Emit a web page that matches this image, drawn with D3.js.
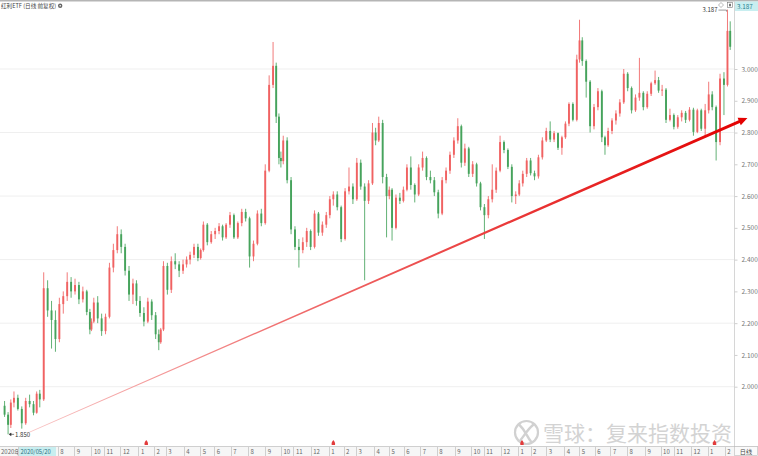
<!DOCTYPE html>
<html><head><meta charset="utf-8">
<script src="https://cdn.jsdelivr.net/npm/d3@7/dist/d3.min.js"></script>
<style>html,body{margin:0;padding:0;background:#fff;overflow:hidden}svg{display:block}</style>
</head><body><svg id="c" width="758" height="456"></svg>
<script>
// ---------------- data ----------------
const title = "红利ETF (日线 前复权)";
const startDate = "2020-04-20", endDate = "2024-02-21";
const holidays = [
 "2020-05-01","2020-05-04","2020-05-05","2020-06-25","2020-06-26","2020-10-01","2020-10-02","2020-10-05","2020-10-06","2020-10-07","2020-10-08",
 "2021-01-01","2021-02-11","2021-02-12","2021-02-15","2021-02-16","2021-02-17","2021-04-05","2021-05-03","2021-05-04","2021-05-05","2021-06-14","2021-09-20","2021-09-21","2021-10-01","2021-10-04","2021-10-05","2021-10-06","2021-10-07",
 "2022-01-03","2022-01-31","2022-02-01","2022-02-02","2022-02-03","2022-02-04","2022-04-04","2022-04-05","2022-05-02","2022-05-03","2022-05-04","2022-06-03","2022-09-12","2022-10-03","2022-10-04","2022-10-05","2022-10-06","2022-10-07",
 "2023-01-02","2023-01-23","2023-01-24","2023-01-25","2023-01-26","2023-01-27","2023-04-05","2023-05-01","2023-05-02","2023-05-03","2023-06-22","2023-06-23","2023-09-29","2023-10-02","2023-10-03","2023-10-04","2023-10-05","2023-10-06",
 "2024-01-01","2024-02-09","2024-02-12","2024-02-13","2024-02-14","2024-02-15","2024-02-16"];

// weekly candles [open, high, low, close]
const ohlc2020 = [
[1.940,1.955,1.905,1.912],[1.912,1.920,1.850,1.880],[1.880,1.960,1.870,1.950],[1.950,1.985,1.935,1.965],
[1.965,1.975,1.925,1.930],[1.930,1.938,1.868,1.885],[1.885,1.965,1.880,1.955],[1.955,1.975,1.935,1.945],
[1.945,1.955,1.910,1.918],[1.918,1.985,1.915,1.978],[1.978,1.990,1.935,1.960],[1.960,2.360,1.955,2.310],
[2.310,2.335,2.220,2.240],[2.240,2.270,2.120,2.210],[2.210,2.240,2.110,2.150],[2.150,2.280,2.140,2.260],
[2.260,2.300,2.230,2.285],[2.285,2.360,2.270,2.330],[2.330,2.345,2.280,2.300],[2.300,2.340,2.290,2.320],
[2.320,2.330,2.260,2.275],[2.275,2.315,2.265,2.300],[2.300,2.305,2.225,2.235],[2.235,2.245,2.165,2.180],
[2.180,2.215,2.175,2.205],[2.205,2.280,2.200,2.265],[2.265,2.285,2.200,2.215],[2.215,2.230,2.160,2.175],
[2.175,2.230,2.165,2.220],[2.220,2.390,2.215,2.375],[2.375,2.450,2.360,2.430],[2.430,2.505,2.420,2.480],
[2.480,2.495,2.420,2.440],[2.440,2.450,2.350,2.365],[2.365,2.380,2.270,2.290],[2.290,2.340,2.260,2.325],
[2.325,2.335,2.255,2.270]];
const ohlc2021 = [
[2.270,2.285,2.220,2.232],[2.232,2.250,2.190,2.205],[2.205,2.280,2.200,2.268],[2.268,2.275,2.210,2.225],
[2.225,2.235,2.150,2.165],[2.165,2.180,2.115,2.140],[2.140,2.185,2.135,2.180],[2.180,2.395,2.175,2.380],
[2.380,2.390,2.290,2.305],[2.305,2.410,2.295,2.395],[2.395,2.420,2.370,2.385],[2.385,2.395,2.345,2.365],
[2.365,2.400,2.355,2.385],[2.385,2.410,2.375,2.400],[2.400,2.425,2.385,2.415],[2.415,2.450,2.405,2.440],
[2.440,2.450,2.395,2.405],[2.405,2.435,2.400,2.430],[2.430,2.520,2.425,2.510],[2.510,2.515,2.445,2.455],
[2.455,2.490,2.450,2.480],[2.480,2.500,2.465,2.490],[2.490,2.515,2.480,2.505],[2.505,2.510,2.460,2.470],
[2.470,2.515,2.465,2.510],[2.510,2.550,2.500,2.540],[2.540,2.545,2.465,2.470],[2.470,2.520,2.465,2.515],
[2.515,2.560,2.505,2.550],[2.550,2.560,2.520,2.530],[2.530,2.535,2.375,2.410],[2.410,2.460,2.395,2.450],
[2.450,2.555,2.445,2.545],[2.545,2.560,2.505,2.515],[2.515,2.700,2.510,2.680],[2.680,2.980,2.675,2.950],
[2.950,3.085,2.940,3.010],[3.010,3.020,2.830,2.850],[2.850,2.860,2.700,2.720],[2.720,2.740,2.690,2.710],
[2.710,2.790,2.700,2.775],[2.775,2.785,2.640,2.650],[2.650,2.660,2.480,2.495],[2.495,2.505,2.430,2.440],
[2.440,2.465,2.375,2.430],[2.430,2.470,2.420,2.455],[2.455,2.500,2.440,2.490],[2.490,2.495,2.430,2.440],
[2.440,2.555,2.435,2.545],[2.545,2.550,2.475,2.485],[2.485,2.520,2.475,2.510],[2.510,2.550,2.500,2.540]];
const ohlc2022 = [
[2.540,2.600,2.530,2.590],[2.590,2.615,2.570,2.605],[2.605,2.615,2.555,2.565],[2.565,2.570,2.455,2.465],
[2.465,2.625,2.460,2.615],[2.615,2.690,2.605,2.630],[2.630,2.640,2.575,2.590],[2.590,2.720,2.585,2.705],
[2.705,2.715,2.620,2.630],[2.630,2.640,2.335,2.585],[2.585,2.650,2.575,2.640],[2.640,2.830,2.635,2.800],
[2.800,2.815,2.760,2.775],[2.775,2.850,2.770,2.830],[2.830,2.840,2.640,2.660],[2.660,2.670,2.470,2.600],
[2.600,2.630,2.590,2.620],[2.620,2.625,2.460,2.500],[2.500,2.605,2.495,2.595],[2.595,2.610,2.575,2.585],
[2.585,2.630,2.580,2.620],[2.620,2.700,2.615,2.690],[2.690,2.725,2.620,2.635],[2.635,2.640,2.580,2.605],
[2.605,2.700,2.600,2.690],[2.690,2.740,2.680,2.720],[2.720,2.725,2.650,2.660],[2.660,2.680,2.640,2.650],
[2.650,2.660,2.600,2.612],[2.612,2.620,2.530,2.545],[2.545,2.660,2.540,2.650],[2.650,2.690,2.640,2.680],
[2.680,2.740,2.670,2.730],[2.730,2.785,2.720,2.775],[2.775,2.845,2.765,2.820],[2.820,2.825,2.690,2.705],
[2.705,2.765,2.695,2.750],[2.750,2.755,2.660,2.670],[2.670,2.710,2.660,2.700],[2.700,2.705,2.630,2.640],
[2.640,2.645,2.555,2.565],[2.565,2.575,2.465,2.540],[2.540,2.600,2.530,2.590],[2.590,2.700,2.580,2.620],
[2.620,2.690,2.610,2.680],[2.680,2.790,2.675,2.770],[2.770,2.775,2.735,2.745],[2.745,2.750,2.685,2.692],
[2.692,2.700,2.580,2.600],[2.600,2.615,2.575,2.605]];
const ohlc2023 = [
[2.605,2.650,2.600,2.640],[2.640,2.680,2.630,2.670],[2.670,2.720,2.660,2.712],[2.712,2.720,2.665,2.672],
[2.672,2.680,2.650,2.662],[2.662,2.730,2.655,2.722],[2.722,2.785,2.715,2.775],[2.775,2.815,2.770,2.805],
[2.805,2.835,2.770,2.778],[2.778,2.805,2.770,2.798],[2.798,2.800,2.745,2.752],[2.752,2.790,2.730,2.785],
[2.785,2.835,2.780,2.828],[2.828,2.895,2.820,2.890],[2.890,2.895,2.835,2.840],[2.840,3.045,2.835,3.030],
[3.030,3.155,3.020,3.090],[3.090,3.100,3.010,3.025],[3.025,3.030,2.910,2.960],[2.960,2.965,2.800,2.820],
[2.820,2.890,2.810,2.880],[2.880,2.940,2.870,2.930],[2.930,2.935,2.770,2.785],[2.785,2.790,2.730,2.760],
[2.760,2.815,2.755,2.805],[2.805,2.845,2.795,2.838],[2.838,2.870,2.825,2.860],[2.860,2.905,2.850,2.895],
[2.895,3.000,2.890,2.985],[2.985,2.990,2.930,2.940],[2.940,2.945,2.860,2.870],[2.870,2.920,2.865,2.910],
[2.910,3.035,2.900,2.925],[2.925,2.930,2.870,2.880],[2.880,2.930,2.875,2.922],[2.922,2.960,2.915,2.955],
[2.955,2.995,2.950,2.965],[2.965,2.975,2.925,2.932],[2.932,2.950,2.915,2.935],[2.935,2.940,2.830,2.840],
[2.840,2.875,2.835,2.855],[2.855,2.860,2.810,2.818],[2.818,2.855,2.812,2.848],[2.848,2.870,2.835,2.862],
[2.862,2.868,2.830,2.840],[2.840,2.880,2.835,2.872],[2.872,2.878,2.790,2.802],[2.802,2.875,2.798,2.870],
[2.870,2.875,2.805,2.812],[2.812,2.890,2.785,2.870]];
const ohlc2024 = [
[2.870,2.960,2.860,2.920],[2.920,2.930,2.870,2.880],[2.880,2.885,2.712,2.770],[2.770,2.985,2.760,2.970],
[2.970,2.990,2.855,2.950],[2.950,3.187,2.945,3.120],[3.120,3.150,3.060,3.070]];

const yTicks = [2.0,2.1,2.2,2.3,2.4,2.5,2.6,2.7,2.8,2.9,3.0];
const gridValues = [2.0,2.2,2.4,2.6,2.8,3.0];
const cursorDateLabel = "2020/05/20";
const yearLabel = "2020年";
const periodLabel = "日线";
const currentLabel = "3.187";
const dividendDates = ["2021-01-18","2022-01-12","2023-01-10","2024-01-15"];
const trend = [{day: 34, price: 1.857}, {day: 951, price: 2.846}];
const watermark = "雪球：复来指数投资";

// ---------------- build ----------------
const parse = d3.timeParse("%Y-%m-%d"), fmt = d3.timeFormat("%Y-%m-%d");
const hol = new Set(holidays);
const days = d3.timeDay.range(parse(startDate), d3.timeDay.offset(parse(endDate), 1))
  .filter(d => d.getDay() % 6 !== 0 && !hol.has(fmt(d)));
const N = days.length;
const weeks = d3.groups(days.map((d, i) => ({d, i})), o => +d3.timeMonday.floor(o.d))
  .map(([k, arr]) => ({mid: d3.mean(arr, o => o.i)}));
const ohlc = [...ohlc2020, ...ohlc2021, ...ohlc2022, ...ohlc2023, ...ohlc2024];
const nC = Math.min(weeks.length, ohlc.length);
const candles = d3.range(nC).map(k => ({t: weeks[k].mid, o: ohlc[k][0], h: ohlc[k][1], l: ohlc[k][2], c: ohlc[k][3]}));

const W = 758, H = 456, axisX = 734, stripY = 446;
const x = d3.scaleLinear().domain([0, N - 1]).range([3, 731]);
const y = d3.scaleLinear().domain([2.0, 3.0]).range([386.7, 69]);

const svg = d3.select("#c");
const font = "'Noto Sans CJK SC','Noto Sans',sans-serif";
svg.append("rect").attr("width", W).attr("height", H).attr("fill", "#fff");

// gradient for trend
const defs = svg.append("defs");
const p0 = [x(trend[0].day), y(trend[0].price)], p1 = [x(trend[1].day), y(trend[1].price)];
const grad = defs.append("linearGradient").attr("id", "tg").attr("gradientUnits", "userSpaceOnUse")
  .attr("x1", p0[0]).attr("y1", p0[1]).attr("x2", p1[0]).attr("y2", p1[1]);
grad.append("stop").attr("offset", 0).attr("stop-color", "#f8c4c4");
grad.append("stop").attr("offset", 0.35).attr("stop-color", "#f07070");
grad.append("stop").attr("offset", 1).attr("stop-color", "#e30000");

// grid
svg.append("g").selectAll("line").data(gridValues).join("line")
  .attr("x1", 0).attr("x2", axisX).attr("y1", d => y(d)).attr("y2", d => y(d))
  .attr("stroke", "#efefef").attr("stroke-width", 1);

// top border
svg.append("rect").attr("x", 0).attr("y", 0).attr("width", W).attr("height", 1.5).attr("fill", "#b5b5b5");

// right axis
svg.append("line").attr("x1", axisX + 0.5).attr("x2", axisX + 0.5).attr("y1", 1).attr("y2", stripY)
  .attr("stroke", "#d6d6d6");
const yAxis = d3.axisRight(y).tickValues(yTicks).tickFormat(d3.format(".3f")).tickSize(3).tickPadding(4);
const ya = svg.append("g").attr("transform", `translate(${axisX + 0.5},0)`).call(yAxis);
ya.select(".domain").remove();
ya.selectAll(".tick line").attr("stroke", "#cfcfcf");
ya.selectAll(".tick text").attr("fill", "#777").attr("font-size", 6.5).attr("font-family", font);

// watermark (behind marks)
const wm = svg.append("g").attr("opacity", 0.9);
wm.append("circle").attr("cx", 526.5).attr("cy", 432.5).attr("r", 11.5).attr("fill", "none").attr("stroke", "#cdcdcd").attr("stroke-width", 2.2);
wm.append("path").attr("d", "M519.5,425 C526,431 527,437 531,441.5 M533,425 C527,430 524,436 520.5,440")
  .attr("fill", "none").attr("stroke", "#cdcdcd").attr("stroke-width", 2.4).attr("stroke-linecap", "round");
wm.append("text").attr("x", 543).attr("y", 440.5).attr("font-size", 21).attr("font-family", font)
  .attr("fill", "#cfcfcf").text(watermark);

// candles
const up = "#f06262", down = "#46a35c";
const cg = svg.append("g");
cg.selectAll("line").data(candles).join("line")
  .attr("x1", d => x(d.t)).attr("x2", d => x(d.t))
  .attr("y1", d => y(d.h)).attr("y2", d => y(d.l))
  .attr("stroke", d => d.c >= d.o ? up : down).attr("stroke-width", 0.85);
const bw = 1.9;
cg.selectAll("rect").data(candles).join("rect")
  .attr("x", d => x(d.t) - bw / 2).attr("width", bw)
  .attr("y", d => y(Math.max(d.o, d.c)))
  .attr("height", d => Math.max(0.8, Math.abs(y(d.o) - y(d.c))))
  .attr("fill", d => d.c >= d.o ? up : down);

// max / min labels
const maxC = candles.reduce((a, b) => b.h > a.h ? b : a);
const minC = candles.reduce((a, b) => b.l < a.l ? b : a);
const mx = x(maxC.t), my = y(maxC.h);
svg.append("path").attr("d", `M${mx - 9},${my + 0.5} H${mx - 1} V${my + 2}`).attr("fill", "none")
  .attr("stroke", "#555").attr("stroke-width", 0.6);
svg.append("text").attr("x", mx - 10).attr("y", my + 2.5).attr("text-anchor", "end")
  .attr("font-size", 6).attr("font-family", font).attr("fill", "#333").text(d3.format(".3f")(maxC.h));
const nx = x(minC.t), ny = y(minC.l);
svg.append("path").attr("d", `M${nx + 1},${ny} L${nx + 3},${ny - 1.3} L${nx + 3},${ny + 1.3} Z M${nx + 3},${ny} H${nx + 6}`)
  .attr("stroke", "#333").attr("stroke-width", 0.6).attr("fill", "#333");
svg.append("text").attr("x", nx + 7).attr("y", ny + 2.2)
  .attr("font-size", 6).attr("font-family", font).attr("fill", "#333").text(d3.format(".3f")(minC.l));

// title
const tt = svg.append("text").attr("x", 1).attr("y", 8).attr("font-size", 5.6).attr("font-family", font)
  .attr("fill", "#444").text(title);
const tw = tt.node().getComputedTextLength();
svg.append("circle").attr("cx", tw + 5).attr("cy", 5.8).attr("r", 2.2).attr("fill", "#666");
svg.append("circle").attr("cx", tw + 5).attr("cy", 5.8).attr("r", 0.8).attr("fill", "#fff");

// top-right widgets
svg.append("path").attr("d", "M721,2.5 L723.5,5 L721,7.5 L718.5,5 Z").attr("fill", "none").attr("stroke", "#888").attr("stroke-width", 0.6);
svg.append("rect").attr("x", 727.5).attr("y", 2.5).attr("width", 5).attr("height", 5).attr("fill", "none").attr("stroke", "#777").attr("stroke-width", 0.6);
svg.append("rect").attr("x", 729).attr("y", 3.8).attr("width", 2).attr("height", 2.5).attr("fill", "#777");
svg.append("rect").attr("x", 735).attr("y", 1.5).attr("width", 23).attr("height", 9.5).attr("fill", "#c8eef0");
svg.append("text").attr("x", 737).attr("y", 8.6).attr("font-size", 6.3).attr("font-family", font)
  .attr("fill", "#2b7f8e").text(currentLabel);

// trend arrow
{
  const dx = p1[0] - p0[0], dy = p1[1] - p0[1], L = Math.hypot(dx, dy);
  const ux = dx / L, uy = dy / L, qx = -uy, qy = ux;
  const hl = 9, hw = 4, w0 = 0.35, w1 = 1.5;
  const b = [p1[0] - ux * hl, p1[1] - uy * hl];
  const pts = [
    [p0[0] + qx * w0, p0[1] + qy * w0], [b[0] + qx * w1, b[1] + qy * w1], [b[0] + qx * hw, b[1] + qy * hw],
    p1, [b[0] - qx * hw, b[1] - qy * hw], [b[0] - qx * w1, b[1] - qy * w1], [p0[0] - qx * w0, p0[1] - qy * w0]];
  svg.append("path").attr("d", d3.line()(pts) + "Z").attr("fill", "url(#tg)");
}

// bottom strip
svg.append("rect").attr("x", 0).attr("y", stripY).attr("width", W).attr("height", H - stripY).attr("fill", "#f6f6f6");
svg.append("line").attr("x1", 0).attr("x2", W).attr("y1", stripY + 0.5).attr("y2", stripY + 0.5).attr("stroke", "#cfcfcf");
const months = [];
days.forEach((d, i) => { if (i > 0 && d.getMonth() !== days[i - 1].getMonth()) months.push({i, m: d.getMonth() + 1}); });
const shown = months.filter(m => x(m.i) > 57);
const sg = svg.append("g");
sg.selectAll("line").data(shown).join("line")
  .attr("x1", d => Math.round(x(d.i)) + 0.5).attr("x2", d => Math.round(x(d.i)) + 0.5)
  .attr("y1", stripY + 1).attr("y2", H).attr("stroke", "#cfcfcf");
sg.selectAll("text").data(shown).join("text")
  .attr("x", d => x(d.i) + 2.5).attr("y", stripY + 7.5)
  .attr("font-size", 6).attr("font-family", font).attr("fill", "#666").text(d => d.m);
svg.append("text").attr("x", 1).attr("y", stripY + 7.5).attr("font-size", 6).attr("font-family", font).attr("fill", "#666").text(yearLabel);
svg.append("line").attr("x1", 18.5).attr("x2", 18.5).attr("y1", stripY + 1).attr("y2", H).attr("stroke", "#cfcfcf");
svg.append("rect").attr("x", 19).attr("y", stripY + 1).attr("width", 37).attr("height", 9).attr("fill", "#c8eef0");
svg.append("text").attr("x", 20.5).attr("y", stripY + 7.5).attr("font-size", 5.8).attr("font-family", font).attr("fill", "#2b6f7e").text(cursorDateLabel);
svg.append("rect").attr("x", axisX + 0.5).attr("y", stripY + 0.5).attr("width", W - axisX - 1).attr("height", H - stripY - 1)
  .attr("fill", "#fafafa").attr("stroke", "#bbb").attr("stroke-width", 0.6);
svg.append("text").attr("x", 746).attr("y", stripY + 7.5).attr("text-anchor", "middle").attr("font-size", 6.2)
  .attr("font-family", font).attr("fill", "#444").text(periodLabel);

// dividend markers
const idxOf = s => { const t = +parse(s); const k = days.findIndex(d => +d >= t); return k < 0 ? N - 1 : k; };
svg.append("g").selectAll("path").data(dividendDates).join("path")
  .attr("transform", ds => `translate(${x(idxOf(ds))},${stripY - 1})`)
  .attr("d", "M0,-5 C1.8,-3 2,-1.2 1.6,0 L-1.6,0 C-2,-1.2 -1.8,-3 0,-5 Z")
  .attr("fill", "#e23b3b");
</script>
</body></html>
